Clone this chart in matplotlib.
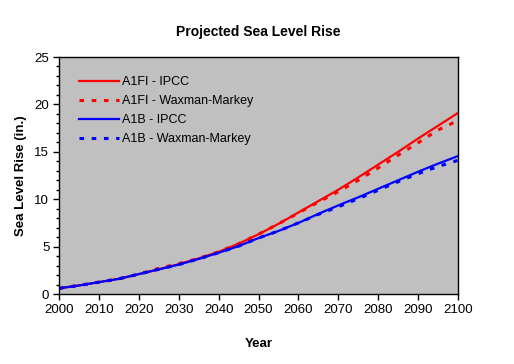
import numpy as np
import matplotlib
matplotlib.use("Agg")
import matplotlib.pyplot as plt
from matplotlib.ticker import MultipleLocator

plt.rcParams['font.family'] = ['Liberation Sans', 'DejaVu Sans']

years = [2000, 2005, 2010, 2015, 2020, 2025, 2030, 2035, 2040, 2045, 2050,
         2055, 2060, 2065, 2070, 2075, 2080, 2085, 2090, 2095, 2100]

a1fi_ipcc = [0.6, 0.9, 1.25, 1.6, 2.1, 2.6, 3.15, 3.75, 4.45, 5.3, 6.3,
             7.4, 8.6, 9.8, 11.0, 12.3, 13.65, 15.0, 16.4, 17.75, 19.1]
a1fi_wm = [0.6, 0.9, 1.25, 1.6, 2.1, 2.7, 3.2, 3.75, 4.45, 5.3, 6.3,
           7.4, 8.55, 9.7, 10.8, 12.0, 13.3, 14.65, 15.95, 17.3, 18.3]
a1b_ipcc = [0.6, 0.9, 1.25, 1.6, 2.1, 2.6, 3.1, 3.7, 4.35, 5.05, 5.9,
            6.65, 7.5, 8.45, 9.35, 10.2, 11.1, 12.0, 12.9, 13.75, 14.55]
a1b_wm = [0.6, 0.9, 1.25, 1.6, 2.1, 2.6, 3.1, 3.7, 4.35, 5.05, 5.9,
          6.65, 7.5, 8.4, 9.2, 10.05, 10.95, 11.85, 12.7, 13.45, 14.1]

labels = ['A1FI - IPCC', 'A1FI - Waxman-Markey', 'A1B - IPCC', 'A1B - Waxman-Markey']

fig = plt.figure(figsize=(5.14, 3.64), dpi=100)
ax = fig.add_axes([0.1148, 0.1923, 0.7763, 0.6511])
ax.set_facecolor('#C0C0C0')

dots = (0, (1.5, 2.5))
ax.plot(years, a1fi_ipcc, color='#FF0000', lw=1.6, label=labels[0])
ax.plot(years, a1fi_wm, color='#FF0000', lw=2.2, ls=dots, label=labels[1])
ax.plot(years, a1b_ipcc, color='#0000FF', lw=1.6, label=labels[2])
ax.plot(years, a1b_wm, color='#0000FF', lw=2.2, ls=dots, label=labels[3])

ax.set_xlim(2000, 2100)
ax.set_ylim(0, 25)
ax.xaxis.set_major_locator(MultipleLocator(10))
ax.yaxis.set_major_locator(MultipleLocator(5))
ax.yaxis.set_minor_locator(MultipleLocator(1))
ax.tick_params(axis='both', which='major', direction='out', length=4, width=1,
               labelsize=9.5, pad=3)
ax.tick_params(axis='y', which='minor', direction='out', length=2.5, width=1)
for s in ax.spines.values():
    s.set_color('black')
    s.set_linewidth(1)

ax.set_title('Projected Sea Level Rise', fontsize=10, fontweight='bold', pad=15)
ax.set_xlabel('Year', fontsize=9.5, fontweight='bold', labelpad=16)
ax.set_ylabel('Sea Level Rise (in.)', fontsize=9.5, fontweight='bold', labelpad=5)

leg = ax.legend(loc='upper left', bbox_to_anchor=(0.05, 0.918), frameon=False,
                fontsize=9, handlelength=3.2, handletextpad=0.25,
                labelspacing=0.55, borderpad=0, borderaxespad=0)

fig.savefig('out.png', dpi=100)
